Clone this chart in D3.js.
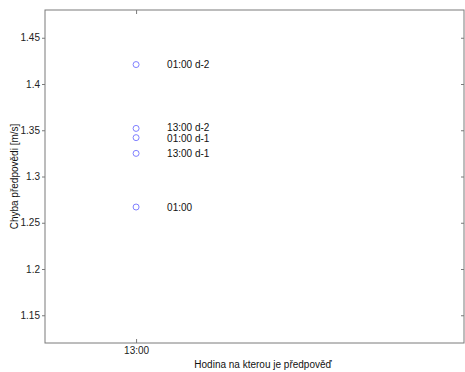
<!DOCTYPE html>
<html>
<head>
<meta charset="utf-8">
<script src="https://cdn.jsdelivr.net/npm/d3@7"></script>
<style>
  html, body { margin: 0; padding: 0; background: #fff; }
  svg { display: block; font-family: "Liberation Sans", Arial, sans-serif; }
</style>
</head>
<body>
<svg id="chart" width="465" height="372"></svg>
<script>
// Forecast error for the 13:00 target hour, by forecast issue time
const xCategories = ["13:00"];
const xPositions = [1];
const seriesLabels = ["01:00 d-2", "13:00 d-2", "01:00 d-1", "13:00 d-1", "01:00"];
const seriesValues = [1.421, 1.352, 1.342, 1.325, 1.267];
const yTicks = [1.15, 1.2, 1.25, 1.3, 1.35, 1.4, 1.45];
const yTickLabels = ["1.15", "1.2", "1.25", "1.3", "1.35", "1.4", "1.45"];
const xLabel = "Hodina na kterou je předpověď";
const yLabel = "Chyba předpovědi [m/s]";

const svg = d3.select("#chart");
const m = { left: 45, top: 10, right: 464, bottom: 343 };

const x = d3.scaleLinear().domain([0.5, 2.8]).range([m.left, m.right]);
const y = d3.scaleLinear().domain([1.12, 1.48]).range([m.bottom, m.top]);

const axisColor = "#7a7a7a";

// Box
svg.append("rect")
  .attr("x", m.left).attr("y", m.top)
  .attr("width", m.right - m.left).attr("height", m.bottom - m.top)
  .attr("fill", "none").attr("stroke", axisColor).attr("stroke-width", 1);

function styleAxis(g, showText) {
  g.select(".domain").remove();
  g.selectAll(".tick line").attr("stroke", axisColor);
  g.selectAll(".tick text")
    .attr("fill", "#222")
    .attr("font-size", 10)
    .attr("font-family", "Liberation Sans, Arial, sans-serif");
  if (!showText) g.selectAll(".tick text").remove();
}

// Left axis (labelled)
svg.append("g").attr("transform", `translate(${m.left},0)`)
  .call(d3.axisLeft(y).tickValues(yTicks)
    .tickFormat((d, i) => yTickLabels[i]).tickSize(3).tickPadding(2))
  .call(g => styleAxis(g, true));

// Right axis ticks (inside)
svg.append("g").attr("transform", `translate(${m.right},0)`)
  .call(d3.axisRight(y).tickValues(yTicks).tickSize(-3))
  .call(g => styleAxis(g, false));

// Bottom axis (labelled, ticks inside)
svg.append("g").attr("transform", `translate(0,${m.bottom})`)
  .call(d3.axisBottom(x).tickValues(xPositions)
    .tickFormat((d, i) => xCategories[i]).tickSizeInner(-4).tickSizeOuter(0).tickPadding(4))
  .call(g => styleAxis(g, true));

// Top axis ticks (inside)
svg.append("g").attr("transform", `translate(0,${m.top})`)
  .call(d3.axisTop(x).tickValues(xPositions).tickSizeInner(-4).tickSizeOuter(0))
  .call(g => styleAxis(g, false));

// Points
const pts = seriesValues.map((v, i) => ({ x: xPositions[0], v, label: seriesLabels[i] }));
svg.append("g").selectAll("circle").data(pts).join("circle")
  .attr("cx", d => x(d.x)).attr("cy", d => y(d.v)).attr("r", 3)
  .attr("fill", "none").attr("stroke", "#7f7fff").attr("stroke-width", 1);

// Label positions: start at each point, then spread any that sit too close
const minGap = 11.6;
const labelPos = pts.map(d => ({ d, ly: y(d.v) })).sort((a, b) => a.ly - b.ly);
for (let pass = 0; pass < 5; pass++) {
  for (let i = 1; i < labelPos.length; i++) {
    const gap = labelPos[i].ly - labelPos[i - 1].ly;
    if (gap < minGap) {
      const shift = (minGap - gap) / 2;
      labelPos[i - 1].ly -= shift;
      labelPos[i].ly += shift;
    }
  }
}

// Point annotations
svg.append("g").selectAll("text").data(labelPos).join("text")
  .attr("x", p => x(p.d.x) + 31).attr("y", p => p.ly)
  .attr("dy", "0.35em")
  .attr("font-size", 10).attr("fill", "#111")
  .text(p => p.d.label);

// Axis titles
svg.append("text")
  .attr("x", 263).attr("y", 368)
  .attr("text-anchor", "middle").attr("font-size", 10).attr("fill", "#111")
  .text(xLabel);

svg.append("text")
  .attr("transform", `translate(18,${(m.top + m.bottom) / 2}) rotate(-90)`)
  .attr("text-anchor", "middle").attr("font-size", 10).attr("fill", "#111")
  .text(yLabel);
</script>
</body>
</html>
